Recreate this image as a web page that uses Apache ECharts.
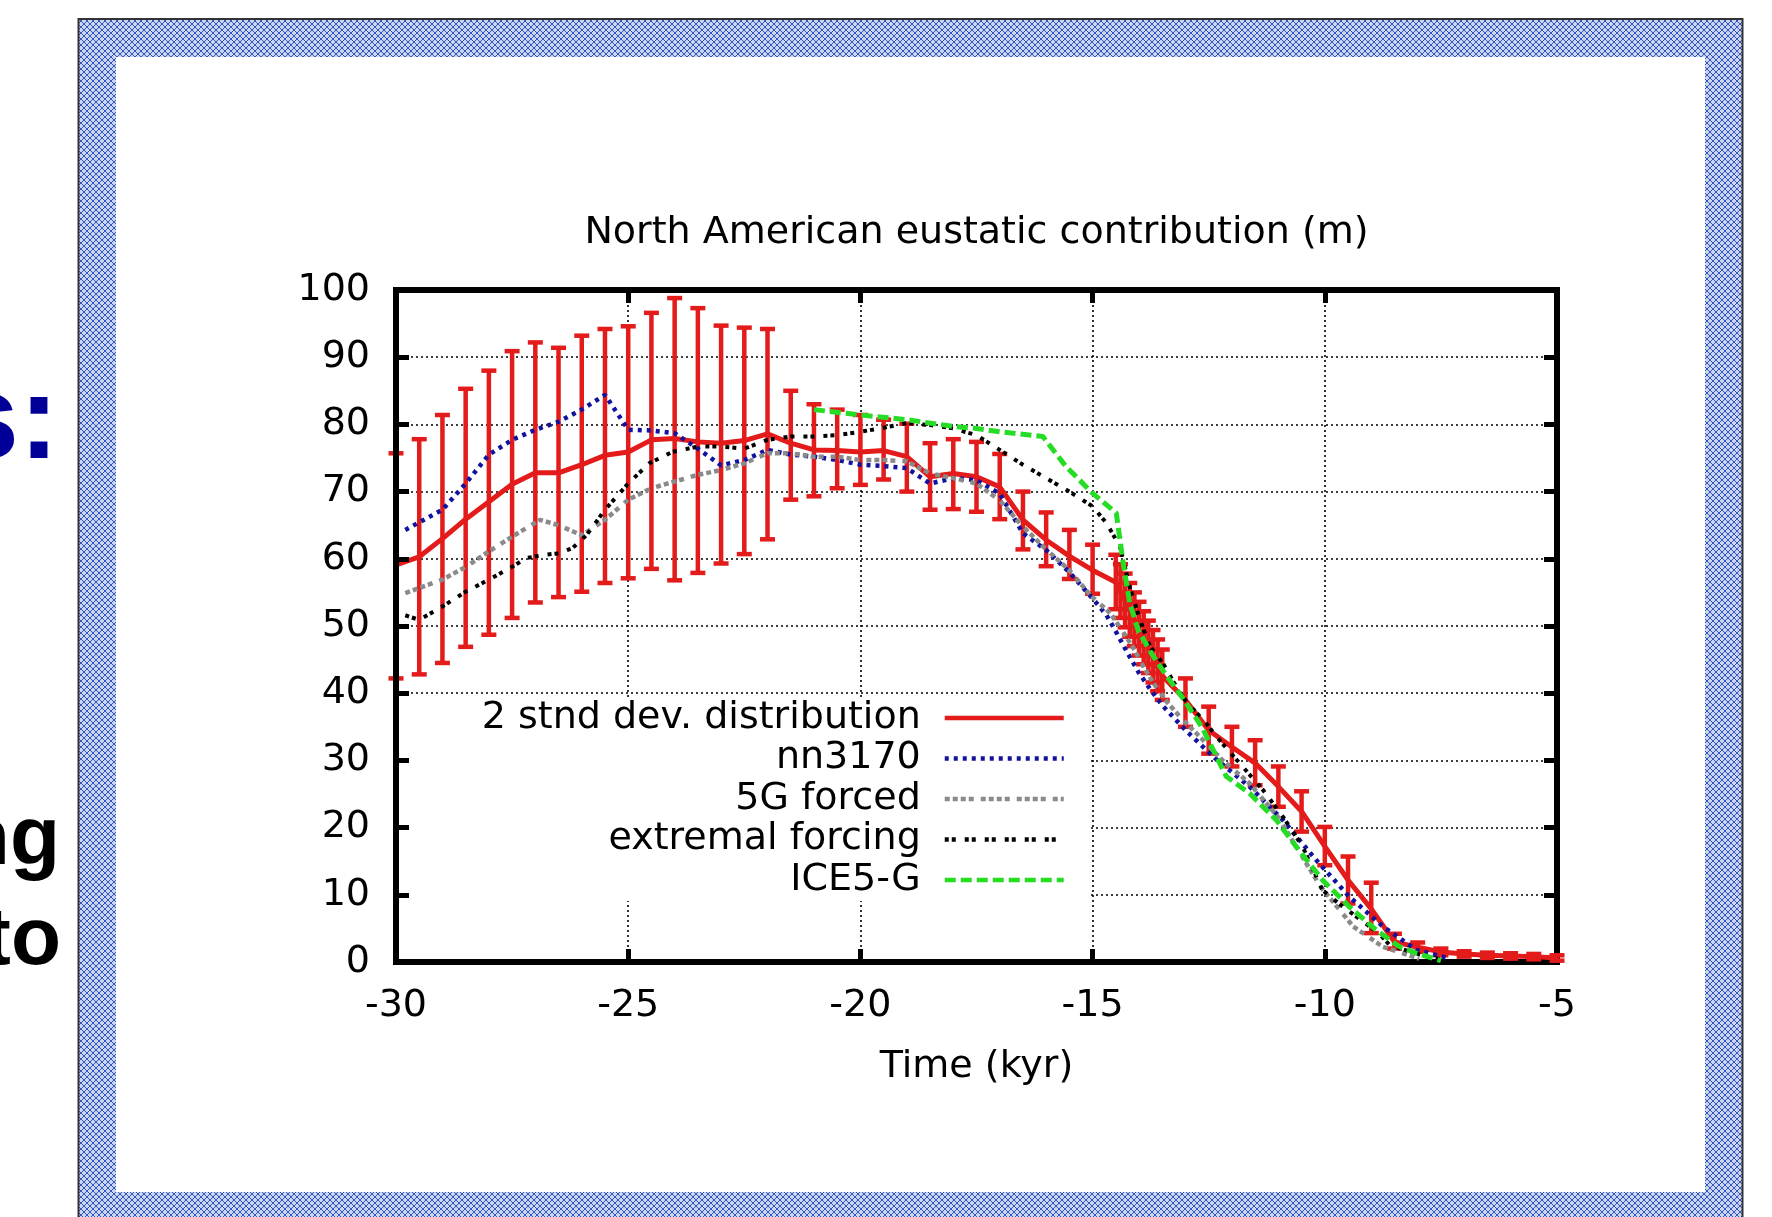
<!DOCTYPE html>
<html><head><meta charset="utf-8">
<script src="https://cdn.jsdelivr.net/npm/echarts@6/dist/echarts.min.js"></script>
<style>html,body{margin:0;padding:0;background:#fff}#c{width:1772px;height:1217px}</style>
</head><body><div id="c"></div>
<script>
// ---- data ----
const xTickValues = [-30, -25, -20, -15, -10, -5];
const yTickValues = [0, 10, 20, 30, 40, 50, 60, 70, 80, 90, 100];

const seriesNames = ['2 stnd dev. distribution', 'nn3170', '5G forced', 'extremal forcing', 'ICE5-G'];

const redTime = [-30,-29.5,-29,-28.5,-28,-27.5,-27,-26.5,-26,-25.5,-25,-24.5,-24,-23.5,-23,-22.5,-22,-21.5,-21,-20.5,-20,-19.5,-19,-18.5,-18,-17.5,-17,-16.5,-16,-15.5,-15,-14.5,-14.4,-14.3,-14.2,-14.1,-14,-13.9,-13.8,-13.7,-13.6,-13.5,-13,-12.5,-12,-11.5,-11,-10.5,-10,-9.5,-9,-8.5,-8,-7.5,-7,-6.5,-6,-5.5,-5];
const redMean = [59.1,60.3,63.0,65.9,68.5,71.1,72.8,72.8,74.0,75.4,75.9,77.7,77.9,77.4,77.2,77.6,78.6,77.2,76.2,76.1,75.9,76.1,75.2,72.2,72.7,72.2,70.7,65.8,62.8,60.4,58.3,56.5,55.1,53.7,52.3,50.9,49.5,48.1,46.7,45.3,43.9,42.6,39.0,34.5,32.0,29.6,26.1,22.4,17.2,12.2,7.9,3.0,2.2,1.5,1.2,1.0,0.9,0.8,0.6];
const redLow = [42.2,42.8,44.5,46.9,48.7,51.2,53.5,54.3,55.1,56.4,57.1,58.5,56.8,57.9,59.3,60.7,62.9,68.8,69.3,70.5,71.0,71.8,70.0,67.3,67.4,67.0,65.9,61.4,58.9,57.0,54.8,52.5,51.2,49.8,48.4,47.0,45.6,44.3,43.0,41.6,40.3,39.0,35.0,31.0,29.1,26.3,23.1,19.4,14.4,8.7,4.3,2.0,1.5,1.0,0.8,0.6,0.5,0.4,0.2];
const redHigh = [75.7,77.8,81.4,85.3,88.0,90.9,92.2,91.4,93.2,94.2,94.6,96.6,98.8,97.3,94.7,94.4,94.2,85.0,83.0,82.2,81.4,80.7,80.1,77.2,77.8,77.4,75.6,70.0,66.9,64.3,62.1,60.6,59.2,57.8,56.4,55.0,53.6,52.2,50.8,49.4,48.0,46.5,42.2,38.0,35.0,33.0,29.1,25.4,20.1,15.7,11.8,4.2,2.9,2.0,1.6,1.4,1.3,1.2,1.0];

const nnTime = [-29.8,-29,-28.5,-28,-27.5,-27,-26.5,-26,-25.5,-25,-24.5,-24,-23.5,-23,-22.5,-22,-21.5,-21,-20.5,-20,-19.5,-19,-18.5,-18,-17.5,-17,-16.5,-16,-15.5,-15,-14.7,-14.5,-14.25,-14,-13.75,-13.5,-13,-12.33,-11.62,-10.9,-10.19,-9.47,-8.75,-8.03,-7.3];
const nnVal = [64.3,67.3,71.2,75.5,77.7,79.2,80.4,82.2,84.4,79.2,79.1,78.7,76.4,73.9,74.7,76.2,75.5,75.2,74.7,74.0,73.8,73.5,71.2,72.0,71.7,69.7,63.8,61.3,58.0,54.1,51.6,49.2,46.0,43.0,40.5,38.2,34.5,30.1,26.1,21.1,15.2,9.7,5.3,1.8,0.5];

const g5Time = [-29.8,-29,-28.5,-28,-27.5,-26.9,-26.5,-26,-25.5,-25,-24.5,-24,-23.5,-23,-22.5,-22,-21.5,-21,-20.5,-20,-19.5,-19,-18.5,-18,-17.5,-17,-16.5,-16,-15.5,-15.05,-14.62,-14.37,-14.12,-13.9,-13.69,-13.4,-13.12,-12.76,-12.2,-11.62,-11,-10.4,-10.09,-9.39,-8.76,-7.97];
const g5Val = [54.9,56.9,58.8,61.1,63.3,65.8,65.0,63.5,65.8,68.8,70.5,71.5,72.5,73.2,74.2,75.7,75.7,75.2,75.2,74.7,74.7,74.5,72.7,72.0,71.2,68.7,64.8,61.4,58.3,54.6,51.9,49.4,46.7,43.9,41.5,38.7,36.5,34.0,30.0,26.6,21.5,14.7,11.2,5.3,2.3,0.5];

const extTime = [-29.8,-29.5,-29,-28.5,-28,-27.5,-27.2,-26.8,-26.5,-26.2,-25.9,-25.5,-25,-24.55,-24.05,-23.5,-23,-22.5,-22,-21.5,-21,-20.5,-20,-19.5,-19,-18.5,-18,-17.5,-17,-16.5,-16,-15.5,-15,-14.7,-14.41,-14.2,-13.98,-13.76,-13.48,-13.26,-12.98,-12.55,-12.33,-11.9,-11.33,-10.9,-10.48,-10.05,-9.7,-9.31,-8.84,-8.6,-8.05,-7.5];
const extVal = [51.6,50.9,52.9,55.1,56.9,58.8,60.1,60.6,60.8,61.6,63.5,67.3,71.2,74.2,75.9,76.7,76.7,76.4,77.7,78.2,78.2,78.4,78.9,79.5,80.2,79.9,79.4,78.4,76.2,74.0,72.0,70.0,67.8,65.3,61.8,55.8,50.9,46.9,44.4,41.7,38.7,35.5,33.5,30.1,25.6,21.6,17.2,10.7,8.7,6.7,4.3,2.5,1.3,0.4];

const iceTime = [-21,-20,-19,-18,-17.5,-17,-16.07,-15.57,-14.99,-14.49,-14.34,-14.2,-14.02,-13.73,-13.44,-13.08,-12.65,-12.47,-12.12,-11.62,-11.04,-10.62,-10.05,-9.47,-8.9,-8.4,-8.03,-7.5];
const iceVal = [82.2,81.4,80.7,79.7,79.4,78.9,78.2,73.7,69.7,66.8,59.3,53.4,49.4,45.9,42.9,39.5,35.0,32.5,27.6,25.1,21.1,17.2,12.2,8.2,4.8,2.3,1.3,0.2];

const chartTitle = 'North American eustatic contribution (m)';
const xAxisTitle = 'Time (kyr)';

// ---- styling ----
const RED = '#e41b1b', BLUE = '#12129e', GREY = '#8a8a8a', BLACK = '#000000', GREEN = '#26dd26';
const FONT = 'DejaVu Sans';
const FS = 38;

function zip(a, b) { return a.map((x, i) => [x, b[i]]); }
const errData = redTime.map((x, i) => [x, redLow[i], redHigh[i]]);

function makePattern() {
  const c = document.createElement('canvas');
  c.width = 6; c.height = 6;
  const g = c.getContext('2d');
  g.fillStyle = '#c9d5f1'; g.fillRect(0, 0, 6, 6);
  g.fillStyle = '#3355bd';
  for (let i = 0; i < 6; i++) { g.fillRect(i, i, 1, 1); g.fillRect(5 - i, i, 1, 1); }
  return c;
}
const pat = { image: makePattern(), repeat: 'repeat' };

function errRender(params, api) {
  const x = api.value(0);
  const lo = api.coord([x, api.value(1)]);
  const hi = api.coord([x, api.value(2)]);
  const hw = 7.5;
  const st = () => ({ stroke: RED, lineWidth: 4.5 });
  return { type: 'group', children: [
    { type: 'line', shape: { x1: hi[0], y1: hi[1], x2: lo[0], y2: lo[1] }, style: st() },
    { type: 'line', shape: { x1: hi[0] - hw, y1: hi[1], x2: hi[0] + hw, y2: hi[1] }, style: st() },
    { type: 'line', shape: { x1: lo[0] - hw, y1: lo[1], x2: lo[0] + hw, y2: lo[1] }, style: st() }
  ]};
}

const axisLineStyle = { color: '#000', width: 6, cap: 'square' };
const tickStyle = { inside: true, length: 13, lineStyle: { color: '#000', width: 5 } };
const gridLine = { show: true, lineStyle: { color: '#000', width: 1.6, type: [2, 3] } };
const yMin = yTickValues[0], yMax = yTickValues[yTickValues.length - 1];
const xMin = xTickValues[0], xMax = xTickValues[xTickValues.length - 1];

const chart = echarts.init(document.getElementById('c'), null, { renderer: 'canvas', width: 1772, height: 1217 });
chart.setOption({
  animation: false,
  backgroundColor: '#ffffff',
  textStyle: { fontFamily: FONT },
  grid: { left: 396, top: 290, width: 1161, height: 672, outerBoundsMode: 'none' },
  xAxis: [
    { type: 'value', position: 'bottom', min: xMin, max: xMax, interval: 5,
      axisLine: { onZero: false, lineStyle: axisLineStyle }, axisTick: tickStyle,
      axisLabel: { fontSize: FS, color: '#000', margin: 25, fontFamily: FONT },
      splitLine: gridLine,
      name: xAxisTitle, nameLocation: 'middle', nameGap: 86,
      nameTextStyle: { fontSize: FS, color: '#000', fontFamily: FONT } },
    { type: 'value', position: 'top', min: xMin, max: xMax, interval: 5,
      axisLine: { onZero: false, lineStyle: axisLineStyle }, axisTick: tickStyle,
      axisLabel: { show: false }, splitLine: { show: false },
      name: chartTitle, nameLocation: 'middle', nameGap: 38,
      nameTextStyle: { fontSize: FS, color: '#000', fontFamily: FONT } }
  ],
  yAxis: [
    { type: 'value', position: 'left', min: yMin, max: yMax, interval: 10,
      axisLine: { show: false, onZero: false }, axisTick: { show: false },
      axisLabel: { fontSize: FS, color: '#000', margin: 26, fontFamily: FONT },
      splitLine: gridLine },
    { type: 'value', position: 'right', min: yMin, max: yMax, interval: 10,
      axisLine: { onZero: false, lineStyle: axisLineStyle }, axisTick: tickStyle,
      axisLabel: { show: false }, splitLine: { show: false } },
    { type: 'value', position: 'left', min: yMin, max: yMax, interval: 10, z: 6,
      axisLine: { onZero: false, lineStyle: axisLineStyle }, axisTick: tickStyle,
      axisLabel: { show: false }, splitLine: { show: false } }
  ],
  legend: {
    orient: 'vertical', align: 'right', right: 682, top: 699,
    padding: [0, 24, 2, 92], backgroundColor: '#ffffff',
    itemWidth: 119, itemHeight: 14, itemGap: 2.5, selectedMode: false,
    itemStyle: { opacity: 0, borderWidth: 0 },
    lineStyle: { width: 4.5 },
    textStyle: { fontSize: FS, color: '#000', fontFamily: FONT, lineHeight: 38, padding: [0, 19, 0, 0] },
    data: seriesNames
  },
  graphic: [
    { type: 'rect', shape: { x: 78.5, y: 19, width: 37.5, height: 1198 }, style: { fill: pat }, silent: true },
    { type: 'rect', shape: { x: 78.5, y: 19, width: 1664, height: 38 }, style: { fill: pat }, silent: true },
    { type: 'rect', shape: { x: 1705, y: 19, width: 37.5, height: 1198 }, style: { fill: pat }, silent: true },
    { type: 'rect', shape: { x: 78.5, y: 1192, width: 1664, height: 25 }, style: { fill: pat }, silent: true },
    { type: 'polyline', shape: { points: [[78.5, 1217], [78.5, 19], [1742.5, 19], [1742.5, 1217]] },
      style: { stroke: '#333', lineWidth: 2, fill: null }, silent: true },
    { type: 'text', x: 59, y: 425, style: { text: 's:', fontSize: 120, fontWeight: 'bold', fontFamily: 'Liberation Sans', fill: '#000099', align: 'right', verticalAlign: 'middle' } },
    { type: 'text', x: 60, y: 841, style: { text: 'ng', fontSize: 82, fontWeight: 'bold', fontFamily: 'Liberation Sans', fill: '#000', align: 'right', verticalAlign: 'middle' } },
    { type: 'text', x: 61, y: 941, style: { text: 'to', fontSize: 82, fontWeight: 'bold', fontFamily: 'Liberation Sans', fill: '#000', align: 'right', verticalAlign: 'middle' } }
  ],
  series: [
    { type: 'custom', name: 'error bars', renderItem: errRender, data: errData,
      encode: { x: 0, y: [1, 2] }, clip: false, silent: true, z: 2 },
    { type: 'line', name: seriesNames[0], data: zip(redTime, redMean), symbol: 'none', silent: true,
      lineStyle: { color: RED, width: 5 }, itemStyle: { color: RED }, z: 2 },
    { type: 'line', name: seriesNames[1], data: zip(nnTime, nnVal), symbol: 'none', silent: true,
      lineStyle: { color: BLUE, width: 4.5, type: [4, 5] }, itemStyle: { color: BLUE }, z: 3 },
    { type: 'line', name: seriesNames[2], data: zip(g5Time, g5Val), symbol: 'none', silent: true,
      lineStyle: { color: GREY, width: 4.5, type: [5, 3, 5, 3, 5, 3, 5, 7] }, itemStyle: { color: GREY }, z: 3 },
    { type: 'line', name: seriesNames[3], data: zip(extTime, extVal), symbol: 'none', silent: true,
      lineStyle: { color: BLACK, width: 4, type: [4, 3, 4, 9] }, itemStyle: { color: BLACK }, z: 3 },
    { type: 'line', name: seriesNames[4], data: zip(iceTime, iceVal), symbol: 'none', silent: true,
      lineStyle: { color: GREEN, width: 5, type: [11, 5] }, itemStyle: { color: GREEN }, z: 3 }
  ]
});
</script></body></html>
